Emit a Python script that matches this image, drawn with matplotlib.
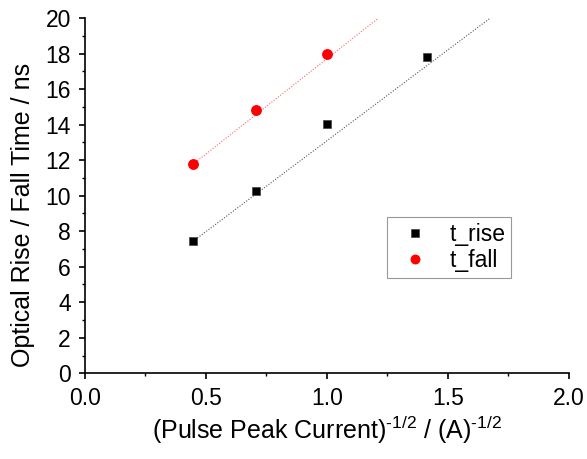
import numpy as np
import matplotlib
matplotlib.use("Agg")
import matplotlib.pyplot as plt
from matplotlib.ticker import MultipleLocator

plt.rcParams['font.family'] = ['Liberation Sans', 'DejaVu Sans']
plt.rcParams['mathtext.fontset'] = 'custom'
plt.rcParams['mathtext.rm'] = 'Liberation Sans'

# data
x_rise = [0.447, 0.707, 1.0, 1.414]
t_rise = [7.47, 10.25, 14.04, 17.81]
x_fall = [0.447, 0.707, 1.0]
t_fall = [11.77, 14.83, 17.98]
# linear fit lines (slope, intercept)
rise_fit = (10.24, 2.85)
fall_fit = (10.74, 6.97)
xticks = [0.0, 0.5, 1.0, 1.5, 2.0]
yticks = [0, 2, 4, 6, 8, 10, 12, 14, 16, 18, 20]

fig = plt.figure(figsize=(5.87, 4.59), dpi=100)
ax = fig.add_axes([0.1443, 0.1867, 0.9693 - 0.1443, 0.9606 - 0.1867])

# fit lines from first point to where they leave the plot at y=20
xr = np.array([x_rise[0], (20 - rise_fit[1]) / rise_fit[0]])
ax.plot(xr, rise_fit[0] * xr + rise_fit[1], linestyle=(0, (1, 1.5)), color='#555555', lw=0.8, zorder=1)
xf = np.array([x_fall[0], (20 - fall_fit[1]) / fall_fit[0]])
ax.plot(xf, fall_fit[0] * xf + fall_fit[1], linestyle=(0, (1, 1.5)), color='#ff6666', lw=0.8, zorder=1)

ax.plot(x_rise, t_rise, linestyle='none', marker='s', ms=6, color='black', mec='#444444', mew=0.5, label='t_rise', zorder=3)
ax.plot(x_fall, t_fall, linestyle='none', marker='o', ms=6.8, color='red', mec='red', label='t_fall', zorder=3)

ax.set_xlim(0, 2)
ax.set_ylim(0, 20)
ax.set_xticks(xticks)
ax.set_yticks(yticks)
ax.set_xticklabels([f'{v:.1f}' for v in xticks])
ax.set_yticklabels([str(v) for v in yticks])
ax.xaxis.set_minor_locator(MultipleLocator(0.25))
ax.yaxis.set_minor_locator(MultipleLocator(1))
for s in ['top', 'right']:
    ax.spines[s].set_visible(False)
for s in ['left', 'bottom']:
    ax.spines[s].set_linewidth(1.2)
ax.tick_params(which='major', direction='out', length=4, width=1.2, labelsize=16.5, pad=6)
ax.tick_params(which='minor', direction='out', length=2.5, width=1.0)

ax.set_xlabel(r'(Pulse Peak Current)$^{\text{-1/2}}$ / (A)$^{\text{-1/2}}$', fontsize=18)
ax.set_ylabel('Optical Rise / Fall Time / ns', fontsize=18)
ax.xaxis.set_label_coords(0.5, -0.115)
ax.yaxis.set_label_coords(-0.103, 0.447)

leg = ax.legend(loc='upper left', bbox_to_anchor=((386.7 - 84.7) / 484.3, 1 - (217.3 - 18.1) / 355.2),
                fontsize=16.5, frameon=True, fancybox=False, edgecolor='#808080', handlelength=2.0,
                handletextpad=0.5, borderpad=0.25, labelspacing=0.15, markerscale=0.9, borderaxespad=0)
leg.get_frame().set_linewidth(0.8)

fig.savefig('out.png', dpi=100)
